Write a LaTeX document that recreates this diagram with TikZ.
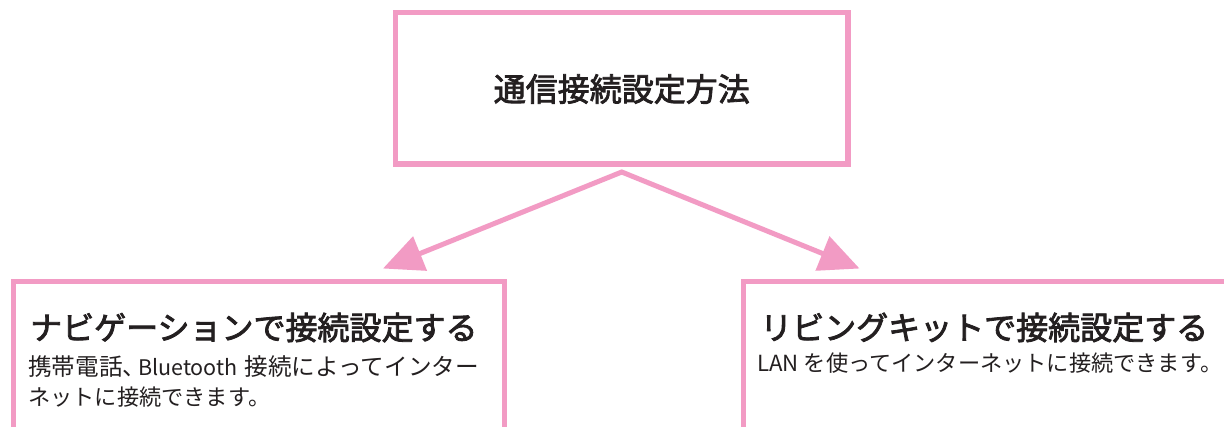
\documentclass[tikz,border=0pt]{standalone}
\usepackage{fontspec}
\setmainfont{Noto Sans CJK JP}
\newfontfamily\medfont{Noto Sans CJK JP}[FakeBold=2.5]
\usetikzlibrary{arrows.meta}
\definecolor{pinkline}{RGB}{242,155,196}
\definecolor{ink}{RGB}{35,31,32}
\tikzset{
  box/.style={draw=pinkline, line width=5.2pt, fill=none, inner sep=0pt},
  title/.style={text=ink, font=\fontsize{32}{36}\medfont, inner sep=0pt},
  head/.style={text=ink, font=\fontsize{32}{36}\medfont, inner sep=0pt, anchor=west},
  body/.style={text=ink, font=\fontsize{22.2}{30}\selectfont, inner sep=0pt, anchor=north west, align=left},
  conn/.style={draw=pinkline, line width=5pt, line join=miter,
    {Triangle[length=40pt,width=36pt]}-{Triangle[length=40pt,width=36pt]}}
}
\begin{document}
\begin{tikzpicture}[x=1pt,y=-1pt]
\useasboundingbox (0,0) rectangle (1224,426);
\clip (0,0) rectangle (1224,426);
\fill[white] (0,0) rectangle (1224,426);
% top box
\node[box, minimum width=452.5pt, minimum height=151.2pt] (top) at (621.75,88.4) {};
\node[title] (toptext) at (621.75,89) {通信接続設定方法};
% bottom boxes (open below the picture's edge)
\node[box, anchor=north west, minimum width=491pt, minimum height=220pt] (nav) at (11,279) {};
\node[box, anchor=north west, minimum width=620pt, minimum height=220pt] (liv) at (741,279) {};
\node[head] (navhead) at (30,327.5) {ナビゲーションで接続設定する};
\node[body] (navbody) at (28,355) {{\fontsize{23.6}{30}\selectfont 携帯電話、\kern-8pt{\fontsize{21.5}{30}\selectfont Bluetooth}\hspace{7pt}接続によってインター}\\ネットに接続できます。};
\node[head] (livhead) at (760,327.5) {リビングキットで接続設定する};
\node[body] (livbody) at (757,353) {LAN を使ってインターネットに接続できます。};
% connectors
\coordinate (apex) at (621.75,172);
\coordinate (navtip) at (383,268.5);
\coordinate (livtip) at (859.5,268.5);
\draw[conn] (navtip) -- (apex) -- (livtip);
\end{tikzpicture}
\end{document}
